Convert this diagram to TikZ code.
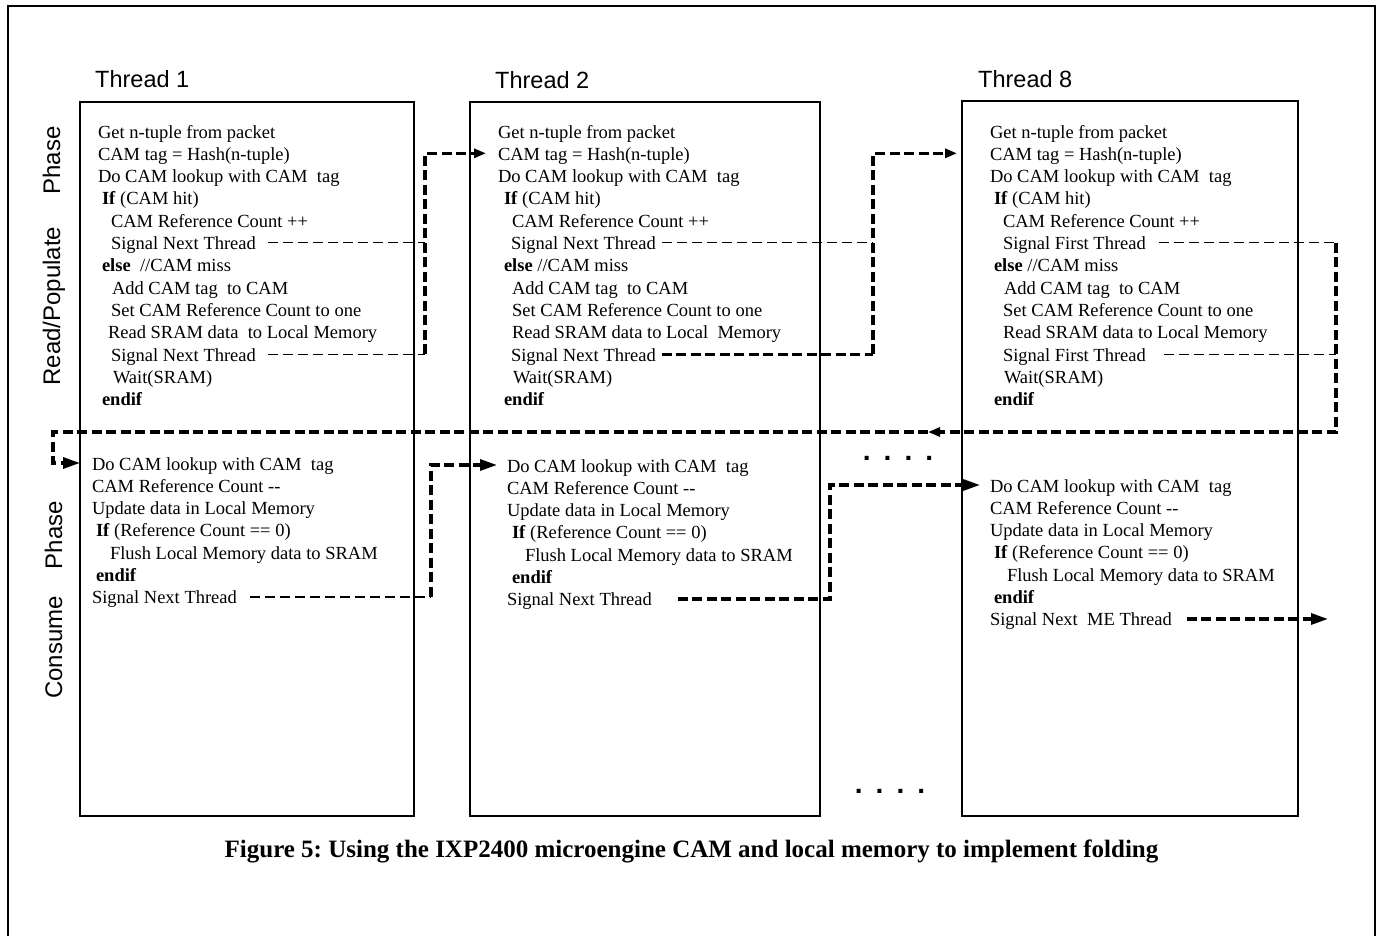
\documentclass[tikz,border=0pt]{standalone}
\usepackage{fontspec}
\setmainfont{Liberation Serif}
\setsansfont{Liberation Sans}
\usepackage{tikz}
\usetikzlibrary{arrows.meta}
\usetikzlibrary{matrix}
\frenchspacing
\newcommand\kw[1]{\textbf{#1}}
\newcommand\ind[1]{\hspace*{#1pt}}
\newcommand\codefont{\fontsize{18.5}{22}\selectfont}
\newcommand\labfont{\sffamily\fontsize{23.5}{28}\selectfont}
\newcommand\phasefont{\sffamily\fontsize{24}{28}\selectfont}
\newcommand\capfont{\bfseries\fontsize{25}{29}\selectfont}
\newcommand\dotrow{.\hspace{13pt}.\hspace{13pt}.\hspace{13pt}.}
\tikzstyle{frame}=[line width=2.7pt]
\tikzstyle{box}=[line width=1.6pt]
\tikzstyle{code}=[matrix of nodes,inner sep=0pt,outer sep=0pt,row sep=8.33pt,anchor=north west,
	nodes={anchor=west,inner sep=0pt,outer sep=0pt,text height=14pt,text depth=0pt,font=\codefont}]
\tikzstyle{thread}=[anchor=base west,inner sep=0pt,font=\labfont]
\tikzstyle{phase}=[anchor=base,rotate=90,inner sep=0pt,font=\phasefont]
\tikzstyle{dots}=[inner sep=0pt,font=\sffamily\bfseries\fontsize{28}{30}\selectfont]
\tikzstyle{sig} =[line width=1.5pt,dash pattern=on 10pt off 5pt]
\tikzstyle{pass}=[line width=3.2pt,dash pattern=on 10pt off 4.5pt]
\tikzstyle{fwd} =[>/.tip={Triangle[length=12pt,width=9pt]},->]
\tikzstyle{fwdbig}=[>/.tip={Triangle[length=17pt,width=11pt]},->]

\begin{document}
\begin{tikzpicture}[x=1pt,y=-1pt]
	\useasboundingbox (0,0) rectangle (1379,936);
	\draw[frame] (8,937) -- (8,6) -- (1375,6) -- (1375,937);
	\draw[box] (80,102) rectangle (414,816);
	\draw[box] (470,102) rectangle (820,816);
	\draw[box] (962,101) rectangle (1298,816);

	\node[thread] (t1) at (95,88) {Thread 1};
	\node[thread] (t2) at (495,89) {Thread 2};
	\node[thread] (t8) at (978,88) {Thread 8};
	\node[phase] (p1) at (60,256) {Read/Populate\hspace{32pt}Phase};
	\node[phase] (p2) at (62,600) {Consume\hspace{27pt}Phase};

	\matrix[code] (r1) at (98,124) {
		Get n-tuple from packet \\
		CAM tag = Hash(n-tuple) \\
		Do CAM lookup with CAM\ \ tag \\
		\ind{4}\kw{If} (CAM hit) \\
		\ind{13}CAM Reference Count ++ \\
		\ind{13}Signal Next Thread \\
		\ind{4}\kw{else}\ \ //CAM miss \\
		\ind{14}Add CAM tag\ \ to CAM \\
		\ind{13}Set CAM Reference Count to one \\
		\ind{10}Read SRAM data\ \ to Local Memory \\
		\ind{13}Signal Next Thread \\
		\ind{15}Wait(SRAM) \\
		\ind{4}\kw{endif} \\
	};
	\matrix[code] (r2) at (498,124) {
		Get n-tuple from packet \\
		CAM tag = Hash(n-tuple) \\
		Do CAM lookup with CAM\ \ tag \\
		\ind{6}\kw{If} (CAM hit) \\
		\ind{14}CAM Reference Count ++ \\
		\ind{13}Signal Next Thread \\
		\ind{6}\kw{else}\ //CAM miss \\
		\ind{14}Add CAM tag\ \ to CAM \\
		\ind{14}Set CAM Reference Count to one \\
		\ind{14}Read SRAM data to Local\ \ Memory \\
		\ind{13}Signal Next Thread \\
		\ind{15}Wait(SRAM) \\
		\ind{6}\kw{endif} \\
	};
	\matrix[code] (r8) at (990,124) {
		Get n-tuple from packet \\
		CAM tag = Hash(n-tuple) \\
		Do CAM lookup with CAM\ \ tag \\
		\ind{4}\kw{If} (CAM hit) \\
		\ind{13}CAM Reference Count ++ \\
		\ind{13}Signal First Thread \\
		\ind{4}\kw{else} //CAM miss \\
		\ind{14}Add CAM tag\ \ to CAM \\
		\ind{13}Set CAM Reference Count to one \\
		\ind{13}Read SRAM data to Local Memory \\
		\ind{13}Signal First Thread \\
		\ind{14}Wait(SRAM) \\
		\ind{4}\kw{endif} \\
	};
	\matrix[code] (c1) at (92,456) {
		Do CAM lookup with CAM\ \ tag \\
		CAM Reference Count\ -{}- \\
		Update data in Local Memory \\
		\ind{4}\kw{If} (Reference Count == 0) \\
		\ind{18}Flush Local Memory data to SRAM \\
		\ind{4}\kw{endif} \\
		Signal Next Thread \\
	};
	\matrix[code] (c2) at (507,458) {
		Do CAM lookup with CAM\ \ tag \\
		CAM Reference Count -{}- \\
		Update data in Local Memory \\
		\ind{5}\kw{If} (Reference Count == 0) \\
		\ind{18}Flush Local Memory data to SRAM \\
		\ind{5}\kw{endif} \\
		Signal Next Thread \\
	};
	\matrix[code] (c8) at (990,478) {
		Do CAM lookup with CAM\ \ tag \\
		CAM Reference Count -{}- \\
		Update data in Local Memory \\
		\ind{4}\kw{If} (Reference Count == 0) \\
		\ind{17}Flush Local Memory data to SRAM \\
		\ind{4}\kw{endif} \\
		Signal Next\ \ ME Thread \\
	};

	\node[dots] (d1) at (898,458) {\dotrow};
	\node[dots] (d2) at (890,791) {\dotrow};
	\node[anchor=base,inner sep=0pt,font=\capfont] (cap) at (691.5,857)
		{Figure 5: Using the IXP2400 microengine CAM and local memory to implement folding};

	\coordinate (j12) at (425,0);
	\coordinate (j28) at (873,0);
	\coordinate (j81) at (1336,432);
	\coordinate (m81) at (928,432);
	\coordinate (j18) at (53,432);
	\coordinate (k12) at (431,0);
	\coordinate (k28) at (830,0);
	\coordinate (out) at (1328,0);

	\draw[sig,shorten <=12pt] (r1-6-1.east) -- (r1-6-1 -| j12);
	\draw[sig,shorten <=12pt] (r1-11-1.east) -- (r1-11-1 -| j12);
	\draw[pass,fwd,shorten >=12pt] (r1-11-1 -| j12) |- (r2-2-1.west);

	\draw[sig,shorten <=6pt] (r2-6-1.east) -- (r2-6-1 -| j28);
	\draw[pass,shorten <=6pt] (r2-11-1.east) -- (r2-11-1 -| j28);
	\draw[pass,fwd,shorten >=33pt] (r2-11-1 -| j28) |- (r8-2-1.west);

	\draw[sig,shorten <=13pt] (r8-6-1.east) -- (r8-6-1 -| j81);
	\draw[sig,shorten <=18pt] (r8-11-1.east) -- (r8-11-1 -| j81);
	\draw[pass,fwd] (r8-6-1 -| j81) -- (j81) -- (m81);
	\draw[pass,fwdbig,shorten >=12pt] (m81) -- (j18) |- (c1-1-1.west);

	\draw[sig,shorten <=13pt] (c1-7-1.east) -- (c1-7-1 -| k12);
	\draw[pass,fwdbig,shorten >=10pt] (c1-7-1 -| k12) |- (c2-1-1.west);
	\draw[pass,fwdbig,shorten <=26pt,shorten >=10pt] (c2-7-1.east) -- (c2-7-1 -| k28) |- (c8-1-1.west);
	\draw[pass,fwdbig,shorten <=15pt] (c8-7-1.east) -- (c8-7-1 -| out);
\end{tikzpicture}
\end{document}
